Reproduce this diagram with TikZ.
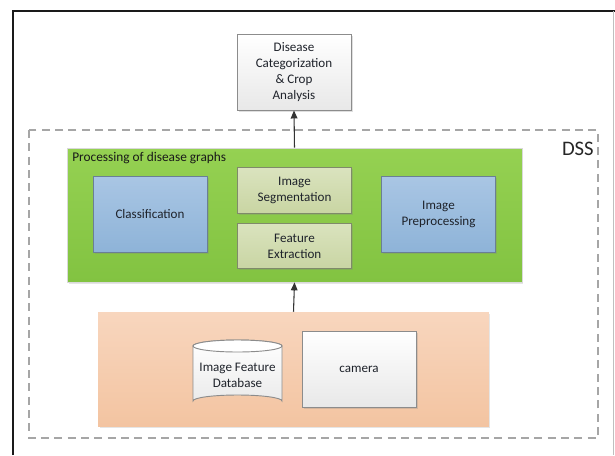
\documentclass[tikz,border=0pt]{standalone}
\usepackage{fontspec}
\setmainfont{Carlito}
\usetikzlibrary{arrows.meta,shadows}
\definecolor{frameblack}{HTML}{1A1A1A}
\definecolor{dashgray}{HTML}{A6A6A6}
\definecolor{greentop}{HTML}{95D152}
\definecolor{greenbot}{HTML}{82C341}
\definecolor{bluetop}{HTML}{A9C6E4}
\definecolor{bluebot}{HTML}{8EB3D8}
\definecolor{bluebd}{HTML}{6A7F96}
\definecolor{olivetop}{HTML}{DAE3BE}
\definecolor{olivebot}{HTML}{C9D5A3}
\definecolor{olivebd}{HTML}{7F8A6A}
\definecolor{peachtop}{HTML}{F8D6BE}
\definecolor{peachbot}{HTML}{F3C4A1}
\definecolor{graybd}{HTML}{8C8C8C}
\definecolor{txt}{HTML}{1F232B}
\tikzset{
  boxbase/.style={rectangle, draw, line width=0.7pt, align=center,
    text=txt, font=\fontsize{9.8pt}{12pt}\selectfont, inner sep=2pt,
    drop shadow={shadow xshift=1.2pt, shadow yshift=-1.2pt, opacity=0.25}},
  bluebox/.style={boxbase, draw=bluebd, top color=bluetop, bottom color=bluebot,
    minimum width=85.5pt, minimum height=57pt},
  olivebox/.style={boxbase, draw=olivebd, top color=olivetop, bottom color=olivebot,
    minimum width=86pt, minimum height=34pt},
  whitebox/.style={boxbase, draw=graybd, top color=white, bottom color=black!9,
    minimum width=85.5pt},
  flow/.style={-{Triangle[length=6pt,width=5pt]}, line width=0.8pt, draw=black!80},
}
\begin{document}
\begin{tikzpicture}[x=0.75pt,y=-0.75pt]
\useasboundingbox (0,0) rectangle (615,455);
\fill[white] (0,0) rectangle (615,455);
% outer frame
\draw[frameblack, line width=1.4pt] (13,455) -- (13,11) -- (615,11);
\draw[black!25, line width=0.5pt] (613,11) -- (613,455);
% DSS boundary
\draw[dashgray, line width=0.9pt, dash pattern=on 6pt off 4pt] (29,130) rectangle (598,438);
\node[anchor=south east, inner sep=0pt, font=\fontsize{15.5pt}{17pt}\selectfont, text=black!85] (dss) at (594,156) {DSS};
% top result box
\node[whitebox, minimum height=57pt] (result) at (294,72) {Disease\\Categorization\\\& Crop\\Analysis};
% processing block
\node[rectangle, draw=black!15, line width=0.5pt, top color=greentop, bottom color=greenbot,
  minimum width=341pt, minimum height=100.5pt,
  drop shadow={shadow xshift=1.2pt, shadow yshift=-1.2pt, opacity=0.2}] (proc) at (294.5,215) {};
\node[anchor=north west, inner sep=0pt, text=black!90, font=\fontsize{10pt}{12pt}\selectfont] (proclabel) at (72,152) {Processing of disease graphs};
\node[bluebox] (class) at (150,214) {Classification};
\node[olivebox] (seg) at (294.5,190.5) {Image\\Segmentation};
\node[olivebox] (feat) at (294.5,246) {Feature\\Extraction};
\node[bluebox] (prep) at (438.5,214) {Image\\Preprocessing};
% input block
\node[rectangle, top color=peachtop, bottom color=peachbot, minimum width=293pt, minimum height=85.5pt,
  drop shadow={shadow xshift=1.2pt, shadow yshift=-1.2pt, opacity=0.2}] (input) at (293.5,369) {};
% database cylinder
\draw[graybd, line width=0.7pt, top color=white, bottom color=black!8]
  (193,346) arc[start angle=180, end angle=360, x radius=44.5, y radius=6]
  -- (282,401) arc[start angle=0, end angle=-180, x radius=44.5, y radius=6] -- cycle;
\draw[graybd, line width=0.7pt, fill=white] (237.5,346) ellipse[x radius=44.5, y radius=6];
\node[align=center, text=txt, font=\fontsize{9.8pt}{12pt}\selectfont, inner sep=0pt] (db) at (237.5,375) {Image Feature\\Database};
\node[whitebox, minimum height=57pt] (camera) at (359,369) {camera};
% connectors
\draw[flow] (input.north) -- (proc.south);
\draw[flow] (proc.north) -- (result.south);
\end{tikzpicture}
\end{document}
